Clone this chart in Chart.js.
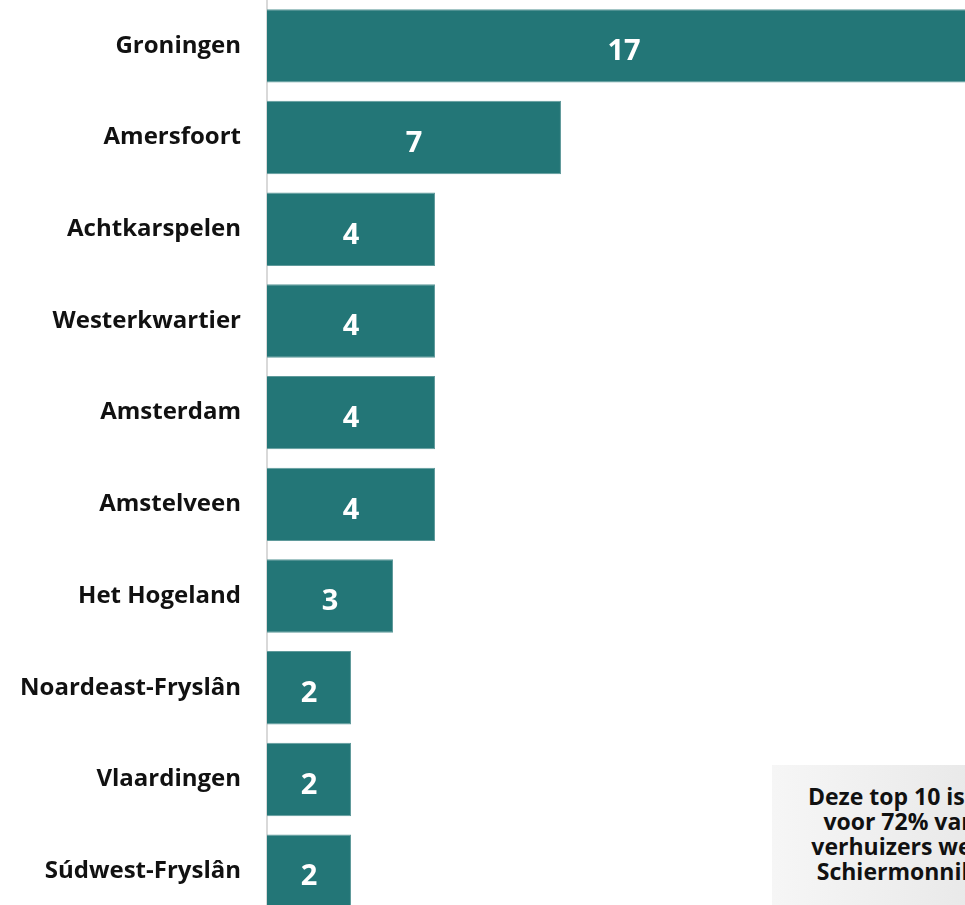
<!DOCTYPE html>
<html>
<head>
<meta charset="utf-8">
<script src="https://cdn.jsdelivr.net/npm/chart.js@4"></script>
<style>
  html, body { margin: 0; padding: 0; background: #fff; overflow: hidden; }
  #wrap { position: absolute; left: 0; top: 0; width: 965px; height: 917px; }
  #note {
    position: absolute; left: 772px; top: 765px; width: 290px; height: 150px;
    background: linear-gradient(to right, #f6f6f6, #e3e3e3);
    font-family: "Open Sans", sans-serif; font-weight: bold; font-size: 23px;
    line-height: 25px; text-align: center; color: #111; padding-top: 19px; box-sizing: border-box;
  }
</style>
</head>
<body>
<div id="wrap"><canvas id="barChart"></canvas></div>
<div id="note">Deze top 10 is goed<br>voor 72% van de<br>verhuizers weg uit<br>Schiermonnikoog</div>
<script>
// data
var gemeenten = ['Groningen', 'Amersfoort', 'Achtkarspelen', 'Westerkwartier', 'Amsterdam',
                 'Amstelveen', 'Het Hogeland', 'Noardeast-Fryslân', 'Vlaardingen', 'Súdwest-Fryslân'];
var aantallen = [17, 7, 4, 4, 4, 4, 3, 2, 2, 2];
var xMax = 16.62;

// white numbers in the middle of each bar
var barLabels = {
    id: 'barLabels',
    afterDatasetsDraw: function(chart) {
        var ctx = chart.ctx;
        var meta = chart.getDatasetMeta(0);
        ctx.save();
        ctx.fillStyle = '#ffffff';
        ctx.font = 'bold 29px "Open Sans"';
        ctx.textAlign = 'center';
        ctx.textBaseline = 'middle';
        meta.data.forEach(function(bar, i) {
            ctx.fillText(aantallen[i], (bar.x + bar.base) / 2, bar.y + 6);
        });
        ctx.restore();
    }
};

var ctx = document.getElementById('barChart').getContext('2d');
var chart = new Chart(ctx, {
    type: 'bar',
    data: {
        labels: gemeenten,
        datasets: [{
            data: aantallen,
            backgroundColor: '#237677',
            borderColor: '#5f9a9b',
            borderWidth: 1,
            borderSkipped: 'left',
            categoryPercentage: 1,
            barPercentage: 0.8
        }]
    },
    options: {
        indexAxis: 'y',
        responsive: true,
        maintainAspectRatio: false,
        animation: false,
        layout: { padding: 0 },
        plugins: {
            legend: { display: false },
            tooltip: { enabled: false }
        },
        scales: {
            x: {
                display: false,
                min: 0,
                max: xMax
            },
            y: {
                grid: { display: false, drawTicks: false },
                border: { color: '#d9d9d9', width: 2 },
                ticks: {
                    color: '#111111',
                    padding: 26,
                    font: { family: 'Open Sans', weight: 'bold', size: 24 }
                },
                afterFit: function(scale) {
                    scale.width = 267;
                    scale.paddingTop = 0;
                    scale.paddingBottom = 0;
                }
            }
        }
    },
    plugins: [barLabels]
});
</script>
</body>
</html>
